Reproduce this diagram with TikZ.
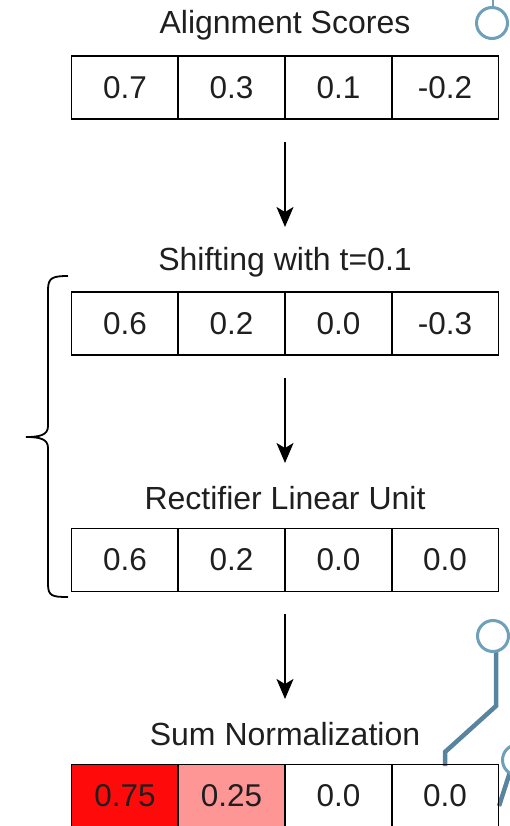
\documentclass[tikz,border=0pt]{standalone}
\usepackage{fontspec}
\setmainfont{Liberation Sans}
\usetikzlibrary{arrows.meta}
\definecolor{hotred}{RGB}{255,10,10}
\definecolor{softred}{RGB}{255,150,150}
\definecolor{wire}{RGB}{88,132,160}
\definecolor{wirering}{RGB}{110,160,185}
\tikzset{
  cell/.style={draw=black, line width=1.6pt, minimum width=107pt, minimum height=63pt,
    inner sep=0pt, font=\fontsize{31.5}{32}\selectfont, text=black!88},
  title/.style={font=\fontsize{32}{34}\selectfont, text=black!88, inner sep=0pt},
  flow/.style={-{Stealth[length=20pt,width=17pt,inset=5pt]}, line width=1.7pt},
  brace/.style={line width=1.8pt},
  trace/.style={draw=wire, line width=4.5pt},
  ring/.style={draw=wirering, line width=3pt, fill=white}
}
\begin{document}
\begin{tikzpicture}[x=1pt,y=-1pt]
\useasboundingbox (0,0) rectangle (510,826);

% decorative circuit traces
\draw[trace] (496,652) -- (496,706) -- (445,752) -- (445,766);
\draw[trace] (510,772) -- (499,806);
\node[ring, circle, minimum size=31pt, inner sep=0pt] (ringb) at (493,636) {};
\node[ring, circle, minimum size=31pt, inner sep=0pt] (ringc) at (518,760) {};
\draw[wirering, line width=2pt] (493,0) -- (493,8);
\node[ring, circle, minimum size=31pt, inner sep=0pt] (ringa) at (492,23) {};

% titles
\node[title] (t1) at (285,25) {Alignment Scores};
\node[title] (t2) at (285,262) {Shifting with t=0.1};
\node[title] (t3) at (285,498) {Rectifier Linear Unit};
\node[title] (t4) at (285,734) {Sum Normalization};

% row 1
\node[cell] (a1) at (125,87.5) {0.7};
\node[cell] (a2) at (231.5,87.5) {0.3};
\node[cell] (a3) at (338.5,87.5) {0.1};
\node[cell] (a4) at (445,87.5) {-0.2};
% row 2
\node[cell] (b1) at (125,323.5) {0.6};
\node[cell] (b2) at (231.5,323.5) {0.2};
\node[cell] (b3) at (338.5,323.5) {0.0};
\node[cell] (b4) at (445,323.5) {-0.3};
% row 3
\node[cell] (c1) at (125,560) {0.6};
\node[cell] (c2) at (231.5,560) {0.2};
\node[cell] (c3) at (338.5,560) {0.0};
\node[cell] (c4) at (445,560) {0.0};
% row 4
\node[cell, fill=hotred] (d1) at (125,796) {0.75};
\node[cell, fill=softred] (d2) at (231.5,796) {0.25};
\node[cell] (d3) at (338.5,796) {0.0};
\node[cell] (d4) at (445,796) {0.0};

% arrows between stages
\coordinate (s1) at (285,142);
\coordinate (e1) at (285,227);
\coordinate (s2) at (285,378);
\coordinate (e2) at (285,463);
\coordinate (s3) at (285,614);
\coordinate (e3) at (285,699);
\draw[flow] (s1) -- (e1);
\draw[flow] (s2) -- (e2);
\draw[flow] (s3) -- (e3);

% brace grouping shift + ReLU
\draw[brace] (68,276) .. controls (52,276) and (48,278) .. (48,290)
  -- (48,426) .. controls (48,435) and (40,437) .. (26,437)
  .. controls (40,437) and (48,439) .. (48,448)
  -- (48,584) .. controls (48,596) and (52,597) .. (68,597);
\end{tikzpicture}
\end{document}
